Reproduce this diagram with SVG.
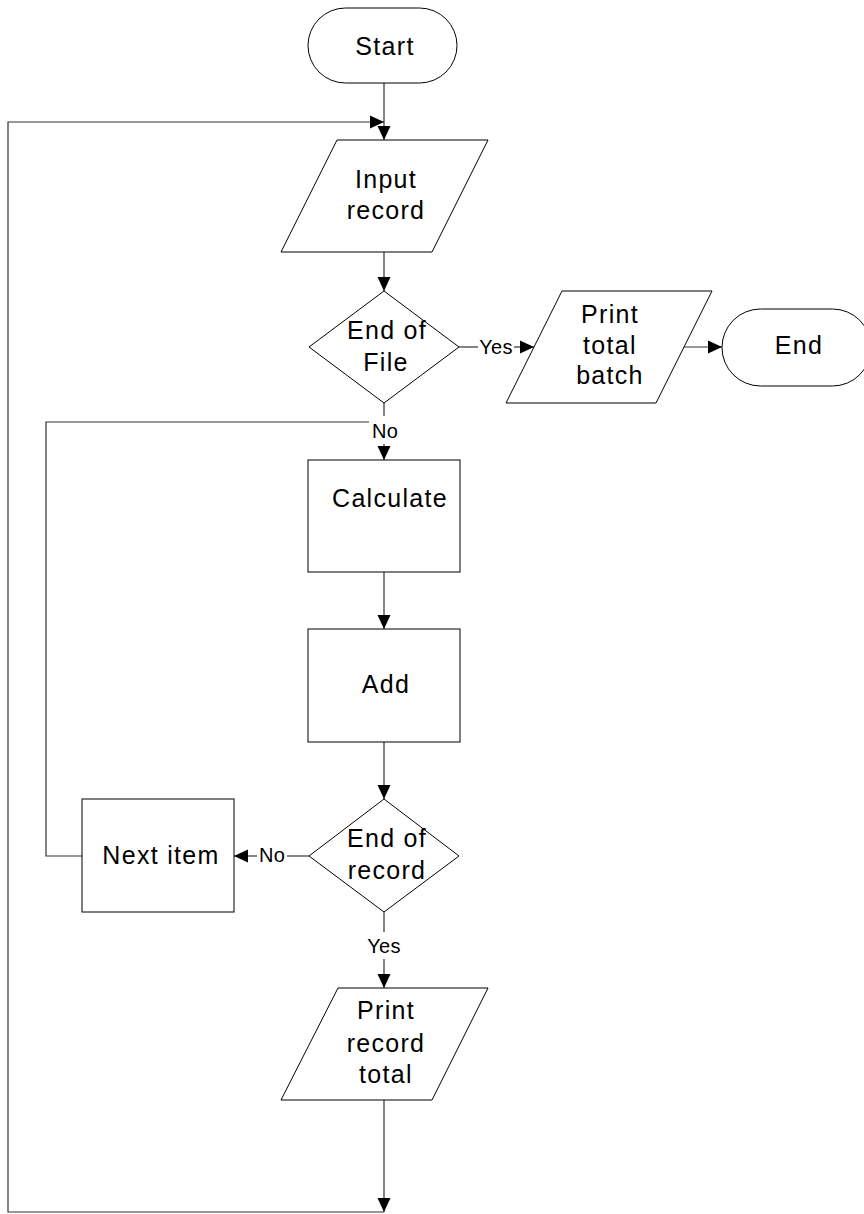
<svg xmlns="http://www.w3.org/2000/svg" width="864" height="1214" viewBox="0 0 864 1214">
  <defs>
    <marker id="arrow" markerUnits="userSpaceOnUse" markerWidth="14" markerHeight="14" viewBox="0 0 14 14" refX="14" refY="7" orient="auto">
      <path d="M0,0.5 L14,7 L0,13.5 Z" fill="#000"/>
    </marker>
  </defs>
  <style>
    .shape { fill: #fff; stroke: #000; stroke-width: 1; }
    .wire { fill: none; stroke: #333; stroke-width: 1.2; }
    .txt { font-family: "Liberation Sans", Arial, sans-serif; font-size: 25px; letter-spacing: 1.3px; fill: #000; text-anchor: middle; }
    .lbl { font-family: "Liberation Sans", Arial, sans-serif; font-size: 20px; letter-spacing: 0.3px; fill: #000; text-anchor: middle; }
  </style>
  <rect width="864" height="1214" fill="#fff"/>

  <!-- connectors -->
  <g id="connectors">
    <!-- Start to Input record -->
    <line class="wire" x1="384" y1="83" x2="384" y2="140" marker-end="url(#arrow)"/>
    <!-- outer return loop -->
    <polyline class="wire" points="384,1100 384,1212" marker-end="url(#arrow)"/>
    <polyline class="wire" points="384,1212 8,1212 8,122 384,122" marker-end="url(#arrow)"/>
    <!-- Input record to End of File -->
    <line class="wire" x1="384" y1="252" x2="384" y2="291" marker-end="url(#arrow)"/>
    <!-- End of File: Yes -->
    <line class="wire" x1="459" y1="347" x2="478" y2="347"/>
    <line class="wire" x1="514" y1="347" x2="534" y2="347" marker-end="url(#arrow)"/>
    <text class="lbl" x="496" y="354">Yes</text>
    <!-- Print total batch to End -->
    <line class="wire" x1="684" y1="347" x2="722" y2="347" marker-end="url(#arrow)"/>
    <!-- End of File: No -->
    <line class="wire" x1="384" y1="403" x2="384" y2="416"/>
    <line class="wire" x1="384" y1="444" x2="384" y2="460" marker-end="url(#arrow)"/>
    <text class="lbl" x="385" y="438">No</text>
    <!-- Calculate to Add -->
    <line class="wire" x1="384" y1="572" x2="384" y2="629" marker-end="url(#arrow)"/>
    <!-- Add to End of record -->
    <line class="wire" x1="384" y1="742" x2="384" y2="799" marker-end="url(#arrow)"/>
    <!-- End of record: No -->
    <line class="wire" x1="309" y1="856" x2="287" y2="856"/>
    <line class="wire" x1="257" y1="856" x2="234" y2="856" marker-end="url(#arrow)"/>
    <text class="lbl" x="272" y="862">No</text>
    <!-- Next item loop back -->
    <polyline class="wire" points="82,856 46,856 46,422 369,422"/>
    <!-- End of record: Yes -->
    <line class="wire" x1="384" y1="912" x2="384" y2="932"/>
    <line class="wire" x1="384" y1="959" x2="384" y2="988" marker-end="url(#arrow)"/>
    <text class="lbl" x="384" y="953">Yes</text>
  </g>

  <g id="start">
    <rect class="shape" x="308" y="8" width="149" height="75" rx="37.5" ry="37.5"/>
    <text class="txt" x="385" y="55">Start</text>
  </g>

  <g id="input-record">
    <polygon class="shape" points="337,140 488,140 432,252 281,252"/>
    <text class="txt" x="386" y="188">Input</text>
    <text class="txt" x="386" y="219">record</text>
  </g>

  <g id="end-of-file">
    <polygon class="shape" points="384,291 459,347 384,403 309,347"/>
    <text class="txt" x="387" y="339">End of</text>
    <text class="txt" x="386" y="371">File</text>
  </g>

  <g id="print-total-batch">
    <polygon class="shape" points="562,291 712,291 656,403 506,403"/>
    <text class="txt" x="610" y="323">Print</text>
    <text class="txt" x="610" y="354">total</text>
    <text class="txt" x="610" y="384">batch</text>
  </g>

  <g id="end">
    <rect class="shape" x="722" y="309" width="149" height="77" rx="38.5" ry="38.5"/>
    <text class="txt" x="799" y="354">End</text>
  </g>

  <g id="calculate">
    <rect class="shape" x="308" y="460" width="152" height="112"/>
    <text class="txt" x="390" y="507">Calculate</text>
  </g>

  <g id="add">
    <rect class="shape" x="308" y="629" width="152" height="113"/>
    <text class="txt" x="386" y="693">Add</text>
  </g>

  <g id="end-of-record">
    <polygon class="shape" points="384,799 459,856 384,912 309,856"/>
    <text class="txt" x="387" y="847">End of</text>
    <text class="txt" x="387" y="879">record</text>
  </g>

  <g id="next-item">
    <rect class="shape" x="82" y="799" width="152" height="113"/>
    <text class="txt" x="161" y="864">Next item</text>
  </g>

  <g id="print-record-total">
    <polygon class="shape" points="338,988 488,988 432,1100 281,1100"/>
    <text class="txt" x="386" y="1019">Print</text>
    <text class="txt" x="386" y="1052">record</text>
    <text class="txt" x="386" y="1083">total</text>
  </g>
</svg>
